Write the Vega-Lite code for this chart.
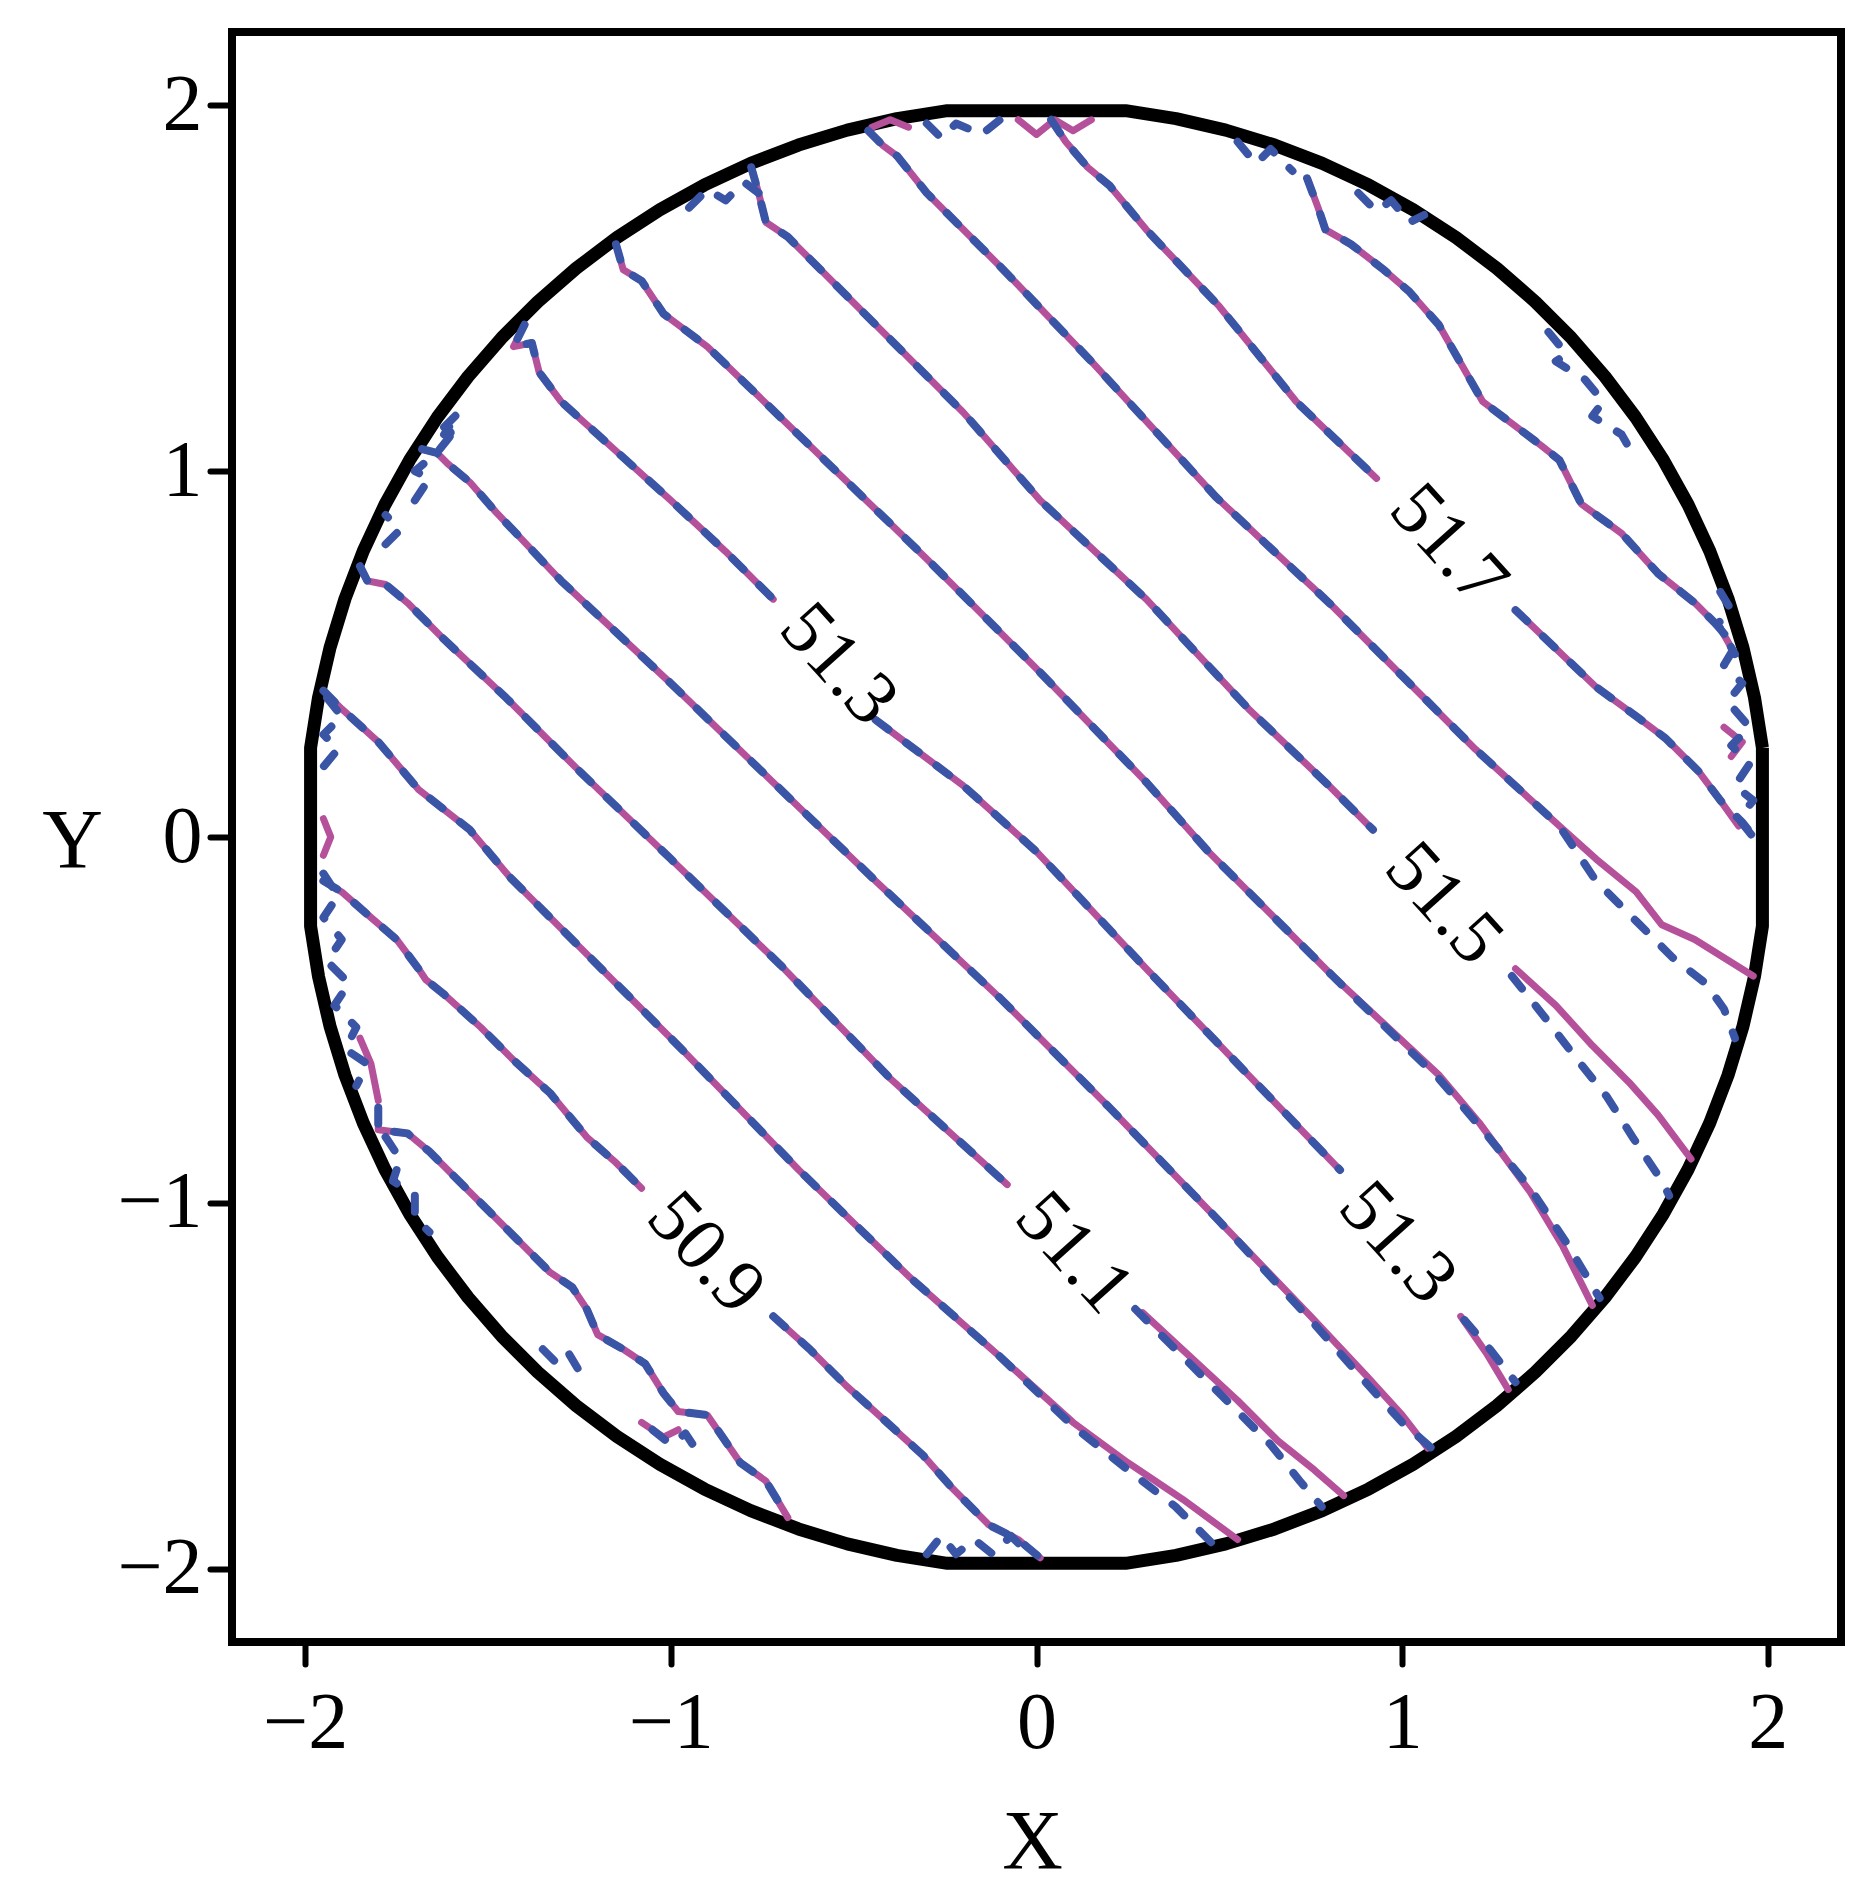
{
  "$schema": "https://vega.github.io/schema/vega-lite/v6.json",
  "width": 1609,
  "height": 1610,
  "autosize": {"type": "none"},
  "padding": {"left": 232, "top": 32, "right": 31, "bottom": 257},
  "background": "white",
  "config": {"view": {"stroke": "black", "strokeWidth": 8}},
  "datasets": {
    "circ": [
      {"i":1,"x":1.9851,"y":0.2437},{"i":2,"x":1.9633,"y":0.3816},{"i":3,"x":1.9319,"y":0.5176},{"i":4,"x":1.8910,"y":0.6511},{"i":5,"x":1.8410,"y":0.7815},{"i":6,"x":1.7820,"y":0.9080},{"i":7,"x":1.7143,"y":1.0301},{"i":8,"x":1.6383,"y":1.1472},{"i":9,"x":1.5543,"y":1.2586},{"i":10,"x":1.4627,"y":1.3640},{"i":11,"x":1.3640,"y":1.4627},{"i":12,"x":1.2586,"y":1.5543},{"i":13,"x":1.1472,"y":1.6383},{"i":14,"x":1.0301,"y":1.7143},{"i":15,"x":0.9080,"y":1.7820},{"i":16,"x":0.7815,"y":1.8410},{"i":17,"x":0.6511,"y":1.8910},{"i":18,"x":0.5176,"y":1.9319},{"i":19,"x":0.3816,"y":1.9633},{"i":20,"x":0.2437,"y":1.9851},
      {"i":21,"x":-0.2437,"y":1.9851},{"i":22,"x":-0.3816,"y":1.9633},{"i":23,"x":-0.5176,"y":1.9319},{"i":24,"x":-0.6511,"y":1.8910},{"i":25,"x":-0.7815,"y":1.8410},{"i":26,"x":-0.9080,"y":1.7820},{"i":27,"x":-1.0301,"y":1.7143},{"i":28,"x":-1.1472,"y":1.6383},{"i":29,"x":-1.2586,"y":1.5543},{"i":30,"x":-1.3640,"y":1.4627},{"i":31,"x":-1.4627,"y":1.3640},{"i":32,"x":-1.5543,"y":1.2586},{"i":33,"x":-1.6383,"y":1.1472},{"i":34,"x":-1.7143,"y":1.0301},{"i":35,"x":-1.7820,"y":0.9080},{"i":36,"x":-1.8410,"y":0.7815},{"i":37,"x":-1.8910,"y":0.6511},{"i":38,"x":-1.9319,"y":0.5176},{"i":39,"x":-1.9633,"y":0.3816},{"i":40,"x":-1.9851,"y":0.2437},
      {"i":41,"x":-1.9851,"y":-0.2437},{"i":42,"x":-1.9633,"y":-0.3816},{"i":43,"x":-1.9319,"y":-0.5176},{"i":44,"x":-1.8910,"y":-0.6511},{"i":45,"x":-1.8410,"y":-0.7815},{"i":46,"x":-1.7820,"y":-0.9080},{"i":47,"x":-1.7143,"y":-1.0301},{"i":48,"x":-1.6383,"y":-1.1472},{"i":49,"x":-1.5543,"y":-1.2586},{"i":50,"x":-1.4627,"y":-1.3640},{"i":51,"x":-1.3640,"y":-1.4627},{"i":52,"x":-1.2586,"y":-1.5543},{"i":53,"x":-1.1472,"y":-1.6383},{"i":54,"x":-1.0301,"y":-1.7143},{"i":55,"x":-0.9080,"y":-1.7820},{"i":56,"x":-0.7815,"y":-1.8410},{"i":57,"x":-0.6511,"y":-1.8910},{"i":58,"x":-0.5176,"y":-1.9319},{"i":59,"x":-0.3816,"y":-1.9633},{"i":60,"x":-0.2437,"y":-1.9851},
      {"i":61,"x":0.2437,"y":-1.9851},{"i":62,"x":0.3816,"y":-1.9633},{"i":63,"x":0.5176,"y":-1.9319},{"i":64,"x":0.6511,"y":-1.8910},{"i":65,"x":0.7815,"y":-1.8410},{"i":66,"x":0.9080,"y":-1.7820},{"i":67,"x":1.0301,"y":-1.7143},{"i":68,"x":1.1472,"y":-1.6383},{"i":69,"x":1.2586,"y":-1.5543},{"i":70,"x":1.3640,"y":-1.4627},{"i":71,"x":1.4627,"y":-1.3640},{"i":72,"x":1.5543,"y":-1.2586},{"i":73,"x":1.6383,"y":-1.1472},{"i":74,"x":1.7143,"y":-1.0301},{"i":75,"x":1.7820,"y":-0.9080},{"i":76,"x":1.8410,"y":-0.7815},{"i":77,"x":1.8910,"y":-0.6511},{"i":78,"x":1.9319,"y":-0.5176},{"i":79,"x":1.9633,"y":-0.3816},{"i":80,"x":1.9851,"y":-0.2437},{"i":81,"x":1.9851,"y":0.2437}
    ],
    "lab": [
      {"t":"51.3","x":-0.541,"y":0.472},
      {"t":"51.7","x":1.127,"y":0.798},
      {"t":"51.5","x":1.114,"y":-0.182},
      {"t":"51.3","x":0.988,"y":-1.109},
      {"t":"51.1","x":0.103,"y":-1.137},
      {"t":"50.9","x":-0.904,"y":-1.137}
    ],
    "c": [
      {"s":"m","g":"a0","i":1,"x":-1.80,"y":-0.74},{"s":"m","g":"a0","i":2,"x":-1.80,"y":-0.80},{"s":"m","g":"a0","i":3,"x":-1.72,"y":-0.81},{"s":"m","g":"a0","i":4,"x":-1.66,"y":-0.86},{"s":"m","g":"a0","i":5,"x":-1.62,"y":-0.90},{"s":"m","g":"a0","i":6,"x":-1.55,"y":-0.97},{"s":"m","g":"a0","i":7,"x":-1.48,"y":-1.04},{"s":"m","g":"a0","i":8,"x":-1.40,"y":-1.12},{"s":"m","g":"a0","i":9,"x":-1.33,"y":-1.19},{"s":"m","g":"a0","i":10,"x":-1.27,"y":-1.23},{"s":"m","g":"a0","i":11,"x":-1.23,"y":-1.29},{"s":"m","g":"a0","i":12,"x":-1.20,"y":-1.36},{"s":"m","g":"a0","i":13,"x":-1.13,"y":-1.40},{"s":"m","g":"a0","i":14,"x":-1.07,"y":-1.44},{"s":"m","g":"a0","i":15,"x":-1.02,"y":-1.52},{"s":"m","g":"a0","i":16,"x":-0.98,"y":-1.57},{"s":"m","g":"a0","i":17,"x":-0.90,"y":-1.58},{"s":"m","g":"a0","i":18,"x":-0.81,"y":-1.71},{"s":"m","g":"a0","i":19,"x":-0.74,"y":-1.76},{"s":"m","g":"a0","i":20,"x":-0.68,"y":-1.86},
      {"s":"b","g":"a0","i":1,"x":-1.80,"y":-0.74},{"s":"b","g":"a0","i":2,"x":-1.80,"y":-0.80},{"s":"b","g":"a0","i":3,"x":-1.72,"y":-0.81},{"s":"b","g":"a0","i":4,"x":-1.66,"y":-0.86},{"s":"b","g":"a0","i":5,"x":-1.62,"y":-0.90},{"s":"b","g":"a0","i":6,"x":-1.55,"y":-0.97},{"s":"b","g":"a0","i":7,"x":-1.48,"y":-1.04},{"s":"b","g":"a0","i":8,"x":-1.40,"y":-1.12},{"s":"b","g":"a0","i":9,"x":-1.33,"y":-1.19},{"s":"b","g":"a0","i":10,"x":-1.27,"y":-1.23},{"s":"b","g":"a0","i":11,"x":-1.23,"y":-1.29},{"s":"b","g":"a0","i":12,"x":-1.20,"y":-1.36},{"s":"b","g":"a0","i":13,"x":-1.13,"y":-1.40},{"s":"b","g":"a0","i":14,"x":-1.07,"y":-1.44},{"s":"b","g":"a0","i":15,"x":-1.02,"y":-1.52},{"s":"b","g":"a0","i":16,"x":-0.98,"y":-1.57},{"s":"b","g":"a0","i":17,"x":-0.90,"y":-1.58},{"s":"b","g":"a0","i":18,"x":-0.81,"y":-1.71},{"s":"b","g":"a0","i":19,"x":-0.74,"y":-1.76},{"s":"b","g":"a0","i":20,"x":-0.68,"y":-1.86},

      {"s":"m","g":"b0","i":1,"x":-1.95,"y":-0.12},{"s":"m","g":"b0","i":2,"x":-1.90,"y":-0.15},{"s":"m","g":"b0","i":3,"x":-1.82,"y":-0.22},{"s":"m","g":"b0","i":4,"x":-1.75,"y":-0.28},{"s":"m","g":"b0","i":5,"x":-1.69,"y":-0.36},{"s":"m","g":"b0","i":6,"x":-1.67,"y":-0.39},{"s":"m","g":"b0","i":7,"x":-1.62,"y":-0.43},{"s":"m","g":"b0","i":8,"x":-1.52,"y":-0.52},{"s":"m","g":"b0","i":9,"x":-1.43,"y":-0.61},{"s":"m","g":"b0","i":10,"x":-1.33,"y":-0.70},{"s":"m","g":"b0","i":11,"x":-1.23,"y":-0.82},{"s":"m","g":"b0","i":12,"x":-1.15,"y":-0.89},{"s":"m","g":"b0","i":13,"x":-1.08,"y":-0.96},
      {"s":"b","g":"b0","i":1,"x":-1.95,"y":-0.12},{"s":"b","g":"b0","i":2,"x":-1.90,"y":-0.15},{"s":"b","g":"b0","i":3,"x":-1.82,"y":-0.22},{"s":"b","g":"b0","i":4,"x":-1.75,"y":-0.28},{"s":"b","g":"b0","i":5,"x":-1.69,"y":-0.36},{"s":"b","g":"b0","i":6,"x":-1.67,"y":-0.39},{"s":"b","g":"b0","i":7,"x":-1.62,"y":-0.43},{"s":"b","g":"b0","i":8,"x":-1.52,"y":-0.52},{"s":"b","g":"b0","i":9,"x":-1.43,"y":-0.61},{"s":"b","g":"b0","i":10,"x":-1.33,"y":-0.70},{"s":"b","g":"b0","i":11,"x":-1.23,"y":-0.82},{"s":"b","g":"b0","i":12,"x":-1.15,"y":-0.89},{"s":"b","g":"b0","i":13,"x":-1.08,"y":-0.96},
      {"s":"m","g":"b1","i":1,"x":-0.72,"y":-1.31},{"s":"m","g":"b1","i":2,"x":-0.62,"y":-1.40},{"s":"m","g":"b1","i":3,"x":-0.52,"y":-1.50},{"s":"m","g":"b1","i":4,"x":-0.42,"y":-1.59},{"s":"m","g":"b1","i":5,"x":-0.31,"y":-1.69},{"s":"m","g":"b1","i":6,"x":-0.23,"y":-1.78},{"s":"m","g":"b1","i":7,"x":-0.13,"y":-1.88},{"s":"m","g":"b1","i":8,"x":-0.05,"y":-1.92},{"s":"m","g":"b1","i":9,"x":0.01,"y":-1.97},
      {"s":"b","g":"b1","i":1,"x":-0.72,"y":-1.31},{"s":"b","g":"b1","i":2,"x":-0.62,"y":-1.40},{"s":"b","g":"b1","i":3,"x":-0.52,"y":-1.50},{"s":"b","g":"b1","i":4,"x":-0.42,"y":-1.59},{"s":"b","g":"b1","i":5,"x":-0.31,"y":-1.69},{"s":"b","g":"b1","i":6,"x":-0.23,"y":-1.78},{"s":"b","g":"b1","i":7,"x":-0.13,"y":-1.88},{"s":"b","g":"b1","i":8,"x":-0.05,"y":-1.92},{"s":"b","g":"b1","i":9,"x":0.01,"y":-1.97},

      {"s":"m","g":"c0","i":1,"x":-1.95,"y":0.40},{"s":"m","g":"c0","i":2,"x":-1.90,"y":0.35},{"s":"m","g":"c0","i":3,"x":-1.80,"y":0.26},{"s":"m","g":"c0","i":4,"x":-1.69,"y":0.13},{"s":"m","g":"c0","i":5,"x":-1.55,"y":0.02},{"s":"m","g":"c0","i":6,"x":-1.44,"y":-0.11},{"s":"m","g":"c0","i":7,"x":-1.26,"y":-0.29},{"s":"m","g":"c0","i":8,"x":-0.98,"y":-0.57},{"s":"m","g":"c0","i":9,"x":-0.65,"y":-0.91},{"s":"m","g":"c0","i":10,"x":-0.35,"y":-1.20},{"s":"m","g":"c0","i":11,"x":-0.10,"y":-1.42},{"s":"m","g":"c0","i":12,"x":0.10,"y":-1.60},{"s":"m","g":"c0","i":13,"x":0.25,"y":-1.71},{"s":"m","g":"c0","i":14,"x":0.40,"y":-1.81},{"s":"m","g":"c0","i":15,"x":0.55,"y":-1.92},
      {"s":"b","g":"c0","i":1,"x":-1.95,"y":0.40},{"s":"b","g":"c0","i":2,"x":-1.90,"y":0.35},{"s":"b","g":"c0","i":3,"x":-1.80,"y":0.26},{"s":"b","g":"c0","i":4,"x":-1.69,"y":0.13},{"s":"b","g":"c0","i":5,"x":-1.55,"y":0.02},{"s":"b","g":"c0","i":6,"x":-1.44,"y":-0.11},{"s":"b","g":"c0","i":7,"x":-1.26,"y":-0.29},{"s":"b","g":"c0","i":8,"x":-0.98,"y":-0.57},{"s":"b","g":"c0","i":9,"x":-0.65,"y":-0.91},{"s":"b","g":"c0","i":10,"x":-0.35,"y":-1.20},{"s":"b","g":"c0","i":11,"x":-0.10,"y":-1.42},{"s":"b","g":"c0","i":12,"x":0.10,"y":-1.61},{"s":"b","g":"c0","i":13,"x":0.25,"y":-1.73},{"s":"b","g":"c0","i":14,"x":0.38,"y":-1.83},{"s":"b","g":"c0","i":15,"x":0.48,"y":-1.93},

      {"s":"m","g":"d0","i":1,"x":-1.85,"y":0.74},{"s":"m","g":"d0","i":2,"x":-1.83,"y":0.70},{"s":"m","g":"d0","i":3,"x":-1.78,"y":0.69},{"s":"m","g":"d0","i":4,"x":-1.72,"y":0.64},{"s":"m","g":"d0","i":5,"x":-1.62,"y":0.54},{"s":"m","g":"d0","i":6,"x":-1.45,"y":0.38},{"s":"m","g":"d0","i":7,"x":-1.25,"y":0.18},{"s":"m","g":"d0","i":8,"x":-1.00,"y":-0.06},{"s":"m","g":"d0","i":9,"x":-0.70,"y":-0.35},{"s":"m","g":"d0","i":10,"x":-0.40,"y":-0.66},{"s":"m","g":"d0","i":11,"x":-0.08,"y":-0.95},
      {"s":"b","g":"d0","i":1,"x":-1.85,"y":0.74},{"s":"b","g":"d0","i":2,"x":-1.83,"y":0.70},{"s":"b","g":"d0","i":3,"x":-1.78,"y":0.69},{"s":"b","g":"d0","i":4,"x":-1.72,"y":0.64},{"s":"b","g":"d0","i":5,"x":-1.62,"y":0.54},{"s":"b","g":"d0","i":6,"x":-1.45,"y":0.38},{"s":"b","g":"d0","i":7,"x":-1.25,"y":0.18},{"s":"b","g":"d0","i":8,"x":-1.00,"y":-0.06},{"s":"b","g":"d0","i":9,"x":-0.70,"y":-0.35},{"s":"b","g":"d0","i":10,"x":-0.40,"y":-0.66},{"s":"b","g":"d0","i":11,"x":-0.08,"y":-0.95},
      {"s":"m","g":"d1","i":1,"x":0.29,"y":-1.30},{"s":"m","g":"d1","i":2,"x":0.42,"y":-1.42},{"s":"m","g":"d1","i":3,"x":0.55,"y":-1.54},{"s":"m","g":"d1","i":4,"x":0.66,"y":-1.65},{"s":"m","g":"d1","i":5,"x":0.76,"y":-1.73},{"s":"m","g":"d1","i":6,"x":0.84,"y":-1.80},
      {"s":"b","g":"d1","i":1,"x":0.27,"y":-1.29},{"s":"b","g":"d1","i":2,"x":0.40,"y":-1.42},{"s":"b","g":"d1","i":3,"x":0.53,"y":-1.55},{"s":"b","g":"d1","i":4,"x":0.64,"y":-1.66},{"s":"b","g":"d1","i":5,"x":0.72,"y":-1.76},{"s":"b","g":"d1","i":6,"x":0.78,"y":-1.83},

      {"s":"m","g":"e0","i":1,"x":-1.68,"y":1.06},{"s":"m","g":"e0","i":2,"x":-1.64,"y":1.05},{"s":"m","g":"e0","i":3,"x":-1.61,"y":1.02},{"s":"m","g":"e0","i":4,"x":-1.55,"y":0.97},{"s":"m","g":"e0","i":5,"x":-1.48,"y":0.89},{"s":"m","g":"e0","i":6,"x":-1.30,"y":0.70},{"s":"m","g":"e0","i":7,"x":-1.00,"y":0.42},{"s":"m","g":"e0","i":8,"x":-0.70,"y":0.13},{"s":"m","g":"e0","i":9,"x":-0.44,"y":-0.12},{"s":"m","g":"e0","i":10,"x":-0.10,"y":-0.44},{"s":"m","g":"e0","i":11,"x":0.20,"y":-0.74},{"s":"m","g":"e0","i":12,"x":0.50,"y":-1.05},{"s":"m","g":"e0","i":13,"x":0.75,"y":-1.31},{"s":"m","g":"e0","i":14,"x":0.90,"y":-1.47},{"s":"m","g":"e0","i":15,"x":1.00,"y":-1.58},{"s":"m","g":"e0","i":16,"x":1.07,"y":-1.67},
      {"s":"b","g":"e0","i":1,"x":-1.68,"y":1.06},{"s":"b","g":"e0","i":2,"x":-1.64,"y":1.05},{"s":"b","g":"e0","i":3,"x":-1.61,"y":1.02},{"s":"b","g":"e0","i":4,"x":-1.55,"y":0.97},{"s":"b","g":"e0","i":5,"x":-1.48,"y":0.89},{"s":"b","g":"e0","i":6,"x":-1.30,"y":0.70},{"s":"b","g":"e0","i":7,"x":-1.00,"y":0.42},{"s":"b","g":"e0","i":8,"x":-0.70,"y":0.13},{"s":"b","g":"e0","i":9,"x":-0.44,"y":-0.12},{"s":"b","g":"e0","i":10,"x":-0.10,"y":-0.44},{"s":"b","g":"e0","i":11,"x":0.20,"y":-0.74},{"s":"b","g":"e0","i":12,"x":0.50,"y":-1.05},{"s":"b","g":"e0","i":13,"x":0.75,"y":-1.32},{"s":"b","g":"e0","i":14,"x":0.90,"y":-1.49},{"s":"b","g":"e0","i":15,"x":1.00,"y":-1.60},{"s":"b","g":"e0","i":16,"x":1.08,"y":-1.67},

      {"s":"m","g":"f0","i":1,"x":-1.40,"y":1.40},{"s":"m","g":"f0","i":2,"x":-1.43,"y":1.34},{"s":"m","g":"f0","i":3,"x":-1.38,"y":1.35},{"s":"m","g":"f0","i":4,"x":-1.36,"y":1.27},{"s":"m","g":"f0","i":5,"x":-1.30,"y":1.19},{"s":"m","g":"f0","i":6,"x":-1.20,"y":1.10},{"s":"m","g":"f0","i":7,"x":-1.00,"y":0.92},{"s":"m","g":"f0","i":8,"x":-0.85,"y":0.78},{"s":"m","g":"f0","i":9,"x":-0.72,"y":0.65},
      {"s":"b","g":"f0","i":1,"x":-1.40,"y":1.40},{"s":"b","g":"f0","i":2,"x":-1.43,"y":1.34},{"s":"b","g":"f0","i":3,"x":-1.38,"y":1.35},{"s":"b","g":"f0","i":4,"x":-1.36,"y":1.27},{"s":"b","g":"f0","i":5,"x":-1.30,"y":1.19},{"s":"b","g":"f0","i":6,"x":-1.20,"y":1.10},{"s":"b","g":"f0","i":7,"x":-1.00,"y":0.92},{"s":"b","g":"f0","i":8,"x":-0.85,"y":0.78},{"s":"b","g":"f0","i":9,"x":-0.72,"y":0.65},
      {"s":"m","g":"f1","i":1,"x":-0.44,"y":0.32},{"s":"m","g":"f1","i":2,"x":-0.20,"y":0.14},{"s":"m","g":"f1","i":3,"x":0.00,"y":-0.04},{"s":"m","g":"f1","i":4,"x":0.30,"y":-0.36},{"s":"m","g":"f1","i":5,"x":0.55,"y":-0.62},{"s":"m","g":"f1","i":6,"x":0.83,"y":-0.91},
      {"s":"b","g":"f1","i":1,"x":-0.44,"y":0.32},{"s":"b","g":"f1","i":2,"x":-0.20,"y":0.14},{"s":"b","g":"f1","i":3,"x":0.00,"y":-0.04},{"s":"b","g":"f1","i":4,"x":0.30,"y":-0.36},{"s":"b","g":"f1","i":5,"x":0.55,"y":-0.62},{"s":"b","g":"f1","i":6,"x":0.83,"y":-0.91},
      {"s":"m","g":"f2","i":1,"x":1.16,"y":-1.31},{"s":"m","g":"f2","i":2,"x":1.23,"y":-1.41},{"s":"m","g":"f2","i":3,"x":1.29,"y":-1.51},
      {"s":"b","g":"f2","i":1,"x":1.17,"y":-1.32},{"s":"b","g":"f2","i":2,"x":1.24,"y":-1.40},{"s":"b","g":"f2","i":3,"x":1.31,"y":-1.49},

      {"s":"m","g":"g0","i":1,"x":-1.15,"y":1.62},{"s":"m","g":"g0","i":2,"x":-1.13,"y":1.55},{"s":"m","g":"g0","i":3,"x":-1.08,"y":1.52},{"s":"m","g":"g0","i":4,"x":-1.02,"y":1.43},{"s":"m","g":"g0","i":5,"x":-0.90,"y":1.34},{"s":"m","g":"g0","i":6,"x":-0.60,"y":1.05},{"s":"m","g":"g0","i":7,"x":-0.30,"y":0.76},{"s":"m","g":"g0","i":8,"x":0.00,"y":0.46},{"s":"m","g":"g0","i":9,"x":0.30,"y":0.15},{"s":"m","g":"g0","i":10,"x":0.47,"y":-0.04},{"s":"m","g":"g0","i":11,"x":0.81,"y":-0.38},{"s":"m","g":"g0","i":12,"x":1.10,"y":-0.65},{"s":"m","g":"g0","i":13,"x":1.21,"y":-0.78},{"s":"m","g":"g0","i":14,"x":1.35,"y":-0.97},{"s":"m","g":"g0","i":15,"x":1.44,"y":-1.12},{"s":"m","g":"g0","i":16,"x":1.52,"y":-1.28},
      {"s":"b","g":"g0","i":1,"x":-1.15,"y":1.62},{"s":"b","g":"g0","i":2,"x":-1.13,"y":1.55},{"s":"b","g":"g0","i":3,"x":-1.08,"y":1.52},{"s":"b","g":"g0","i":4,"x":-1.02,"y":1.43},{"s":"b","g":"g0","i":5,"x":-0.90,"y":1.34},{"s":"b","g":"g0","i":6,"x":-0.60,"y":1.05},{"s":"b","g":"g0","i":7,"x":-0.30,"y":0.76},{"s":"b","g":"g0","i":8,"x":0.00,"y":0.46},{"s":"b","g":"g0","i":9,"x":0.30,"y":0.15},{"s":"b","g":"g0","i":10,"x":0.47,"y":-0.04},{"s":"b","g":"g0","i":11,"x":0.81,"y":-0.38},{"s":"b","g":"g0","i":12,"x":1.10,"y":-0.66},{"s":"b","g":"g0","i":13,"x":1.22,"y":-0.80},{"s":"b","g":"g0","i":14,"x":1.35,"y":-0.96},{"s":"b","g":"g0","i":15,"x":1.45,"y":-1.11},{"s":"b","g":"g0","i":16,"x":1.54,"y":-1.26},

      {"s":"m","g":"h0","i":1,"x":-0.78,"y":1.83},{"s":"m","g":"h0","i":2,"x":-0.76,"y":1.76},{"s":"m","g":"h0","i":3,"x":-0.74,"y":1.68},{"s":"m","g":"h0","i":4,"x":-0.68,"y":1.64},{"s":"m","g":"h0","i":5,"x":-0.50,"y":1.46},{"s":"m","g":"h0","i":6,"x":-0.20,"y":1.16},{"s":"m","g":"h0","i":7,"x":0.01,"y":0.92},{"s":"m","g":"h0","i":8,"x":0.30,"y":0.65},{"s":"m","g":"h0","i":9,"x":0.58,"y":0.35},{"s":"m","g":"h0","i":10,"x":0.80,"y":0.14},{"s":"m","g":"h0","i":11,"x":0.92,"y":0.02},
      {"s":"b","g":"h0","i":1,"x":-0.78,"y":1.83},{"s":"b","g":"h0","i":2,"x":-0.76,"y":1.76},{"s":"b","g":"h0","i":3,"x":-0.74,"y":1.68},{"s":"b","g":"h0","i":4,"x":-0.68,"y":1.64},{"s":"b","g":"h0","i":5,"x":-0.50,"y":1.46},{"s":"b","g":"h0","i":6,"x":-0.20,"y":1.16},{"s":"b","g":"h0","i":7,"x":0.01,"y":0.92},{"s":"b","g":"h0","i":8,"x":0.30,"y":0.65},{"s":"b","g":"h0","i":9,"x":0.58,"y":0.35},{"s":"b","g":"h0","i":10,"x":0.80,"y":0.14},{"s":"b","g":"h0","i":11,"x":0.92,"y":0.02},
      {"s":"m","g":"h1","i":1,"x":1.31,"y":-0.36},{"s":"m","g":"h1","i":2,"x":1.42,"y":-0.46},{"s":"m","g":"h1","i":3,"x":1.52,"y":-0.57},{"s":"m","g":"h1","i":4,"x":1.62,"y":-0.67},{"s":"m","g":"h1","i":5,"x":1.70,"y":-0.76},{"s":"m","g":"h1","i":6,"x":1.79,"y":-0.88},
      {"s":"b","g":"h1","i":1,"x":1.30,"y":-0.38},{"s":"b","g":"h1","i":2,"x":1.38,"y":-0.48},{"s":"b","g":"h1","i":3,"x":1.48,"y":-0.61},{"s":"b","g":"h1","i":4,"x":1.56,"y":-0.71},{"s":"b","g":"h1","i":5,"x":1.63,"y":-0.82},{"s":"b","g":"h1","i":6,"x":1.71,"y":-0.94},{"s":"b","g":"h1","i":7,"x":1.73,"y":-0.98},

      {"s":"m","g":"k0","i":1,"x":-0.46,"y":1.93},{"s":"m","g":"k0","i":2,"x":-0.42,"y":1.89},{"s":"m","g":"k0","i":3,"x":-0.38,"y":1.86},{"s":"m","g":"k0","i":4,"x":-0.30,"y":1.76},{"s":"m","g":"k0","i":5,"x":-0.10,"y":1.56},{"s":"m","g":"k0","i":6,"x":0.15,"y":1.30},{"s":"m","g":"k0","i":7,"x":0.49,"y":0.93},{"s":"m","g":"k0","i":8,"x":0.80,"y":0.64},{"s":"m","g":"k0","i":9,"x":1.01,"y":0.43},{"s":"m","g":"k0","i":10,"x":1.20,"y":0.24},{"s":"m","g":"k0","i":11,"x":1.43,"y":0.03},{"s":"m","g":"k0","i":12,"x":1.53,"y":-0.06},{"s":"m","g":"k0","i":13,"x":1.64,"y":-0.15},{"s":"m","g":"k0","i":14,"x":1.71,"y":-0.24},{"s":"m","g":"k0","i":15,"x":1.80,"y":-0.28},{"s":"m","g":"k0","i":16,"x":1.88,"y":-0.33},{"s":"m","g":"k0","i":17,"x":1.96,"y":-0.38},
      {"s":"b","g":"k0","i":1,"x":-0.46,"y":1.93},{"s":"b","g":"k0","i":2,"x":-0.42,"y":1.89},{"s":"b","g":"k0","i":3,"x":-0.38,"y":1.86},{"s":"b","g":"k0","i":4,"x":-0.30,"y":1.76},{"s":"b","g":"k0","i":5,"x":-0.10,"y":1.56},{"s":"b","g":"k0","i":6,"x":0.15,"y":1.30},{"s":"b","g":"k0","i":7,"x":0.49,"y":0.93},{"s":"b","g":"k0","i":8,"x":0.80,"y":0.64},{"s":"b","g":"k0","i":9,"x":1.01,"y":0.43},{"s":"b","g":"k0","i":10,"x":1.20,"y":0.24},{"s":"b","g":"k0","i":11,"x":1.43,"y":0.03},{"s":"b","g":"k0","i":12,"x":1.53,"y":-0.12},{"s":"b","g":"k0","i":13,"x":1.64,"y":-0.23},{"s":"b","g":"k0","i":14,"x":1.74,"y":-0.33},{"s":"b","g":"k0","i":15,"x":1.83,"y":-0.40},{"s":"b","g":"k0","i":16,"x":1.88,"y":-0.47},{"s":"b","g":"k0","i":17,"x":1.91,"y":-0.55},

      {"s":"m","g":"l0","i":1,"x":0.04,"y":1.96},{"s":"m","g":"l0","i":2,"x":0.08,"y":1.90},{"s":"m","g":"l0","i":3,"x":0.14,"y":1.83},{"s":"m","g":"l0","i":4,"x":0.20,"y":1.78},{"s":"m","g":"l0","i":5,"x":0.30,"y":1.66},{"s":"m","g":"l0","i":6,"x":0.50,"y":1.45},{"s":"m","g":"l0","i":7,"x":0.71,"y":1.19},{"s":"m","g":"l0","i":8,"x":0.93,"y":0.98},
      {"s":"b","g":"l0","i":1,"x":0.04,"y":1.96},{"s":"b","g":"l0","i":2,"x":0.08,"y":1.90},{"s":"b","g":"l0","i":3,"x":0.14,"y":1.83},{"s":"b","g":"l0","i":4,"x":0.20,"y":1.78},{"s":"b","g":"l0","i":5,"x":0.30,"y":1.66},{"s":"b","g":"l0","i":6,"x":0.50,"y":1.45},{"s":"b","g":"l0","i":7,"x":0.71,"y":1.19},{"s":"b","g":"l0","i":8,"x":0.93,"y":0.98},
      {"s":"m","g":"l1","i":1,"x":1.31,"y":0.62},{"s":"m","g":"l1","i":2,"x":1.53,"y":0.41},{"s":"m","g":"l1","i":3,"x":1.64,"y":0.33},{"s":"m","g":"l1","i":4,"x":1.72,"y":0.27},{"s":"m","g":"l1","i":5,"x":1.81,"y":0.18},{"s":"m","g":"l1","i":6,"x":1.87,"y":0.10},{"s":"m","g":"l1","i":7,"x":1.92,"y":0.03},
      {"s":"b","g":"l1","i":1,"x":1.31,"y":0.62},{"s":"b","g":"l1","i":2,"x":1.53,"y":0.41},{"s":"b","g":"l1","i":3,"x":1.64,"y":0.33},{"s":"b","g":"l1","i":4,"x":1.72,"y":0.27},{"s":"b","g":"l1","i":5,"x":1.81,"y":0.18},{"s":"b","g":"l1","i":6,"x":1.87,"y":0.10},{"s":"b","g":"l1","i":7,"x":1.93,"y":0.04},{"s":"b","g":"l1","i":8,"x":1.98,"y":-0.02},

      {"s":"m","g":"n0","i":1,"x":0.74,"y":1.80},{"s":"m","g":"n0","i":2,"x":0.77,"y":1.72},{"s":"m","g":"n0","i":3,"x":0.79,"y":1.66},{"s":"m","g":"n0","i":4,"x":0.86,"y":1.62},{"s":"m","g":"n0","i":5,"x":0.95,"y":1.55},{"s":"m","g":"n0","i":6,"x":1.02,"y":1.49},{"s":"m","g":"n0","i":7,"x":1.10,"y":1.40},{"s":"m","g":"n0","i":8,"x":1.22,"y":1.19},{"s":"m","g":"n0","i":9,"x":1.38,"y":1.07},{"s":"m","g":"n0","i":10,"x":1.43,"y":1.03},{"s":"m","g":"n0","i":11,"x":1.49,"y":0.91},{"s":"m","g":"n0","i":12,"x":1.60,"y":0.83},{"s":"m","g":"n0","i":13,"x":1.70,"y":0.72},{"s":"m","g":"n0","i":14,"x":1.80,"y":0.64},{"s":"m","g":"n0","i":15,"x":1.87,"y":0.57},{"s":"m","g":"n0","i":16,"x":1.91,"y":0.50},
      {"s":"b","g":"n0","i":1,"x":0.74,"y":1.80},{"s":"b","g":"n0","i":2,"x":0.77,"y":1.72},{"s":"b","g":"n0","i":3,"x":0.79,"y":1.66},{"s":"b","g":"n0","i":4,"x":0.86,"y":1.62},{"s":"b","g":"n0","i":5,"x":0.95,"y":1.55},{"s":"b","g":"n0","i":6,"x":1.02,"y":1.49},{"s":"b","g":"n0","i":7,"x":1.10,"y":1.40},{"s":"b","g":"n0","i":8,"x":1.22,"y":1.19},{"s":"b","g":"n0","i":9,"x":1.38,"y":1.07},{"s":"b","g":"n0","i":10,"x":1.43,"y":1.03},{"s":"b","g":"n0","i":11,"x":1.49,"y":0.91},{"s":"b","g":"n0","i":12,"x":1.60,"y":0.83},{"s":"b","g":"n0","i":13,"x":1.70,"y":0.72},{"s":"b","g":"n0","i":14,"x":1.80,"y":0.64},{"s":"b","g":"n0","i":15,"x":1.87,"y":0.57},{"s":"b","g":"n0","i":16,"x":1.91,"y":0.50},

      {"s":"b","g":"z1","i":1,"x":1.87,"y":0.67},{"s":"b","g":"z1","i":2,"x":1.90,"y":0.62},{"s":"b","g":"z1","i":3,"x":1.86,"y":0.58},{"s":"b","g":"z1","i":4,"x":1.91,"y":0.52},{"s":"b","g":"z1","i":5,"x":1.88,"y":0.47},{"s":"b","g":"z1","i":6,"x":1.93,"y":0.42},{"s":"b","g":"z1","i":7,"x":1.89,"y":0.37},{"s":"b","g":"z1","i":8,"x":1.95,"y":0.30},{"s":"b","g":"z1","i":9,"x":1.90,"y":0.25},{"s":"b","g":"z1","i":10,"x":1.95,"y":0.20},{"s":"b","g":"z1","i":11,"x":1.91,"y":0.14},{"s":"b","g":"z1","i":12,"x":1.96,"y":0.10},{"s":"b","g":"z1","i":13,"x":1.92,"y":0.05},{"s":"b","g":"z1","i":14,"x":1.96,"y":0.00},
      {"s":"b","g":"z2","i":1,"x":-1.94,"y":0.38},{"s":"b","g":"z2","i":2,"x":-1.90,"y":0.33},{"s":"b","g":"z2","i":3,"x":-1.95,"y":0.28},{"s":"b","g":"z2","i":4,"x":-1.91,"y":0.24},{"s":"b","g":"z2","i":5,"x":-1.96,"y":0.18},
      {"s":"b","g":"z3","i":1,"x":-1.95,"y":-0.10},{"s":"b","g":"z3","i":2,"x":-1.91,"y":-0.16},{"s":"b","g":"z3","i":3,"x":-1.95,"y":-0.22},{"s":"b","g":"z3","i":4,"x":-1.90,"y":-0.28},{"s":"b","g":"z3","i":5,"x":-1.94,"y":-0.34},{"s":"b","g":"z3","i":6,"x":-1.88,"y":-0.40},{"s":"b","g":"z3","i":7,"x":-1.92,"y":-0.46},{"s":"b","g":"z3","i":8,"x":-1.86,"y":-0.52},{"s":"b","g":"z3","i":9,"x":-1.89,"y":-0.58},{"s":"b","g":"z3","i":10,"x":-1.83,"y":-0.62},{"s":"b","g":"z3","i":11,"x":-1.86,"y":-0.68},
      {"s":"b","g":"z4","i":1,"x":-0.30,"y":1.95},{"s":"b","g":"z4","i":2,"x":-0.26,"y":1.91},{"s":"b","g":"z4","i":3,"x":-0.22,"y":1.95},{"s":"b","g":"z4","i":4,"x":-0.15,"y":1.92},{"s":"b","g":"z4","i":5,"x":-0.10,"y":1.96},
      {"s":"b","g":"z5","i":1,"x":-0.95,"y":1.72},{"s":"b","g":"z5","i":2,"x":-0.90,"y":1.77},{"s":"b","g":"z5","i":3,"x":-0.85,"y":1.74},{"s":"b","g":"z5","i":4,"x":-0.80,"y":1.79},{"s":"b","g":"z5","i":5,"x":-0.76,"y":1.76},
      {"s":"b","g":"z6","i":1,"x":0.55,"y":1.90},{"s":"b","g":"z6","i":2,"x":0.60,"y":1.84},{"s":"b","g":"z6","i":3,"x":0.64,"y":1.88},{"s":"b","g":"z6","i":4,"x":0.70,"y":1.82},
      {"s":"b","g":"z7","i":1,"x":0.88,"y":1.76},{"s":"b","g":"z7","i":2,"x":0.93,"y":1.71},{"s":"b","g":"z7","i":3,"x":0.97,"y":1.74},{"s":"b","g":"z7","i":4,"x":1.02,"y":1.68},{"s":"b","g":"z7","i":5,"x":1.06,"y":1.70},
      {"s":"b","g":"z8","i":1,"x":1.40,"y":1.38},{"s":"b","g":"z8","i":2,"x":1.45,"y":1.32},{"s":"b","g":"z8","i":3,"x":1.42,"y":1.30},{"s":"b","g":"z8","i":4,"x":1.50,"y":1.25},{"s":"b","g":"z8","i":5,"x":1.55,"y":1.19},{"s":"b","g":"z8","i":6,"x":1.52,"y":1.15},{"s":"b","g":"z8","i":7,"x":1.60,"y":1.10},{"s":"b","g":"z8","i":8,"x":1.64,"y":1.03},
      {"s":"b","g":"z9","i":1,"x":-1.35,"y":-1.40},{"s":"b","g":"z9","i":2,"x":-1.31,"y":-1.44},{"s":"b","g":"z9","i":3,"x":-1.28,"y":-1.41},{"s":"b","g":"z9","i":4,"x":-1.25,"y":-1.46},
      {"s":"b","g":"z10","i":1,"x":-1.05,"y":-1.62},{"s":"b","g":"z10","i":2,"x":-1.00,"y":-1.66},{"s":"b","g":"z10","i":3,"x":-0.96,"y":-1.63},{"s":"b","g":"z10","i":4,"x":-0.92,"y":-1.69},
      {"s":"b","g":"z11","i":1,"x":-0.30,"y":-1.96},{"s":"b","g":"z11","i":2,"x":-0.26,"y":-1.91},{"s":"b","g":"z11","i":3,"x":-0.22,"y":-1.96},{"s":"b","g":"z11","i":4,"x":-0.17,"y":-1.92},{"s":"b","g":"z11","i":5,"x":-0.12,"y":-1.96},{"s":"b","g":"z11","i":6,"x":-0.07,"y":-1.91},{"s":"b","g":"z11","i":7,"x":-0.03,"y":-1.95},
      {"s":"b","g":"z12","i":1,"x":-1.62,"y":1.12},{"s":"b","g":"z12","i":2,"x":-1.58,"y":1.16},{"s":"b","g":"z12","i":3,"x":-1.62,"y":1.10},{"s":"b","g":"z12","i":4,"x":-1.56,"y":1.12},
      {"s":"b","g":"z13","i":1,"x":-1.70,"y":0.92},{"s":"b","g":"z13","i":2,"x":-1.66,"y":0.98},{"s":"b","g":"z13","i":3,"x":-1.70,"y":1.00},{"s":"b","g":"z13","i":4,"x":-1.64,"y":1.05},{"s":"b","g":"z13","i":5,"x":-1.60,"y":1.10},
      {"s":"b","g":"z14","i":1,"x":-1.78,"y":0.80},{"s":"b","g":"z14","i":2,"x":-1.74,"y":0.84},{"s":"b","g":"z14","i":3,"x":-1.78,"y":0.88},
      {"s":"b","g":"z15","i":1,"x":-1.78,"y":-0.82},{"s":"b","g":"z15","i":2,"x":-1.74,"y":-0.88},{"s":"b","g":"z15","i":3,"x":-1.76,"y":-0.94},{"s":"b","g":"z15","i":4,"x":-1.70,"y":-0.98},{"s":"b","g":"z15","i":5,"x":-1.70,"y":-1.04},{"s":"b","g":"z15","i":6,"x":-1.66,"y":-1.08},

      {"s":"m","g":"y1","i":1,"x":-0.05,"y":1.96},{"s":"m","g":"y1","i":2,"x":0.00,"y":1.92},{"s":"m","g":"y1","i":3,"x":0.05,"y":1.96},{"s":"m","g":"y1","i":4,"x":0.10,"y":1.93},{"s":"m","g":"y1","i":5,"x":0.15,"y":1.96},
      {"s":"m","g":"y2","i":1,"x":-1.95,"y":0.05},{"s":"m","g":"y2","i":2,"x":-1.93,"y":0.00},{"s":"m","g":"y2","i":3,"x":-1.95,"y":-0.05},
      {"s":"m","g":"y3","i":1,"x":-1.85,"y":-0.55},{"s":"m","g":"y3","i":2,"x":-1.82,"y":-0.62},{"s":"m","g":"y3","i":3,"x":-1.80,"y":-0.72},
      {"s":"m","g":"y4","i":1,"x":-1.08,"y":-1.60},{"s":"m","g":"y4","i":2,"x":-1.02,"y":-1.64},{"s":"m","g":"y4","i":3,"x":-0.98,"y":-1.62},
      {"s":"m","g":"y5","i":1,"x":1.88,"y":0.30},{"s":"m","g":"y5","i":2,"x":1.93,"y":0.26},{"s":"m","g":"y5","i":3,"x":1.90,"y":0.22},
      {"s":"m","g":"y6","i":1,"x":-0.45,"y":1.94},{"s":"m","g":"y6","i":2,"x":-0.40,"y":1.96},{"s":"m","g":"y6","i":3,"x":-0.35,"y":1.94}
    ]
  },
  "encoding": {
    "x": {
      "field": "x", "type": "quantitative",
      "scale": {"domain": [-2.2, 2.2], "nice": false, "zero": false},
      "axis": {
        "values": [-2, -1, 0, 1, 2], "title": "X", "grid": false, "domain": false,
        "tickSize": 22, "tickWidth": 6, "tickColor": "black", "tickCap": "round",
        "labelFont": "Liberation Serif", "labelFontSize": 80, "labelColor": "black", "labelPadding": 20,
        "labelFlush": false, "labelOverlap": false,
        "titleFont": "Liberation Serif", "titleFontSize": 84, "titleFontWeight": "normal", "titleColor": "black",
        "titleX": 800, "titleY": 226, "titleBaseline": "alphabetic", "titleAlign": "center"
      }
    },
    "y": {
      "field": "y", "type": "quantitative",
      "scale": {"domain": [-2.2, 2.2], "nice": false, "zero": false},
      "axis": {
        "values": [-2, -1, 0, 1, 2], "title": "Y", "grid": false, "domain": false,
        "tickSize": 22, "tickWidth": 6, "tickColor": "black", "tickCap": "round",
        "labelFont": "Liberation Serif", "labelFontSize": 80, "labelColor": "black", "labelPadding": 8,
        "labelFlush": false, "labelOverlap": false,
        "titleFont": "Liberation Serif", "titleFontSize": 84, "titleFontWeight": "normal", "titleColor": "black",
        "titleAngle": 0, "titleX": -160, "titleY": 835, "titleBaseline": "alphabetic", "titleAlign": "center"
      }
    }
  },
  "layer": [
    {
      "data": {"name": "circ"},
      "mark": {"type": "line", "color": "black", "strokeWidth": 13, "strokeJoin": "round"},
      "encoding": {"order": {"field": "i", "type": "quantitative"}}
    },
    {
      "data": {"name": "c"},
      "transform": [{"filter": "datum.s === 'm'"}],
      "mark": {"type": "line", "color": "#B5519B", "strokeWidth": 7, "strokeCap": "round", "strokeJoin": "round"},
      "encoding": {"detail": {"field": "g"}, "order": {"field": "i", "type": "quantitative"}}
    },
    {
      "data": {"name": "c"},
      "transform": [{"filter": "datum.s === 'b'"}],
      "mark": {"type": "line", "color": "#3A55A5", "strokeWidth": 8, "strokeDash": [16, 22], "strokeCap": "round", "strokeJoin": "round"},
      "encoding": {"detail": {"field": "g"}, "order": {"field": "i", "type": "quantitative"}}
    },
    {
      "data": {"name": "lab"},
      "mark": {"type": "text", "font": "Liberation Serif", "fontSize": 76, "angle": 48, "align": "center", "baseline": "middle", "color": "black"},
      "encoding": {"text": {"field": "t"}}
    }
  ]
}
